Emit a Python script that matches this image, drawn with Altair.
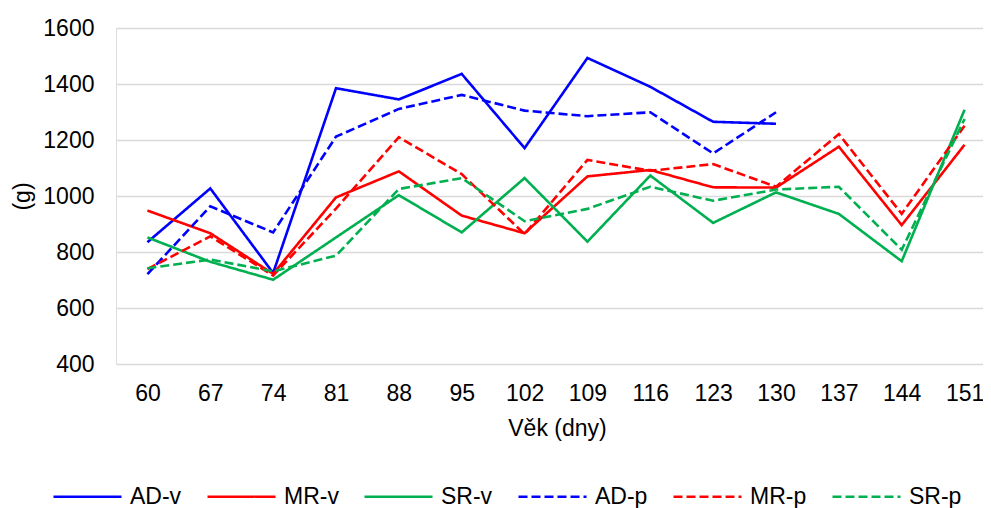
import altair as alt
import pandas as pd

days = [60, 67, 74, 81, 88, 95, 102, 109, 116, 123, 130, 137, 144, 151]

ad_v = [835, 1027, 725, 1385, 1345, 1436, 1171, 1493, 1390, 1265, 1258, None, None, None]
mr_v = [948, 867, 722, 995, 1088, 930, 867, 1070, 1093, 1031, 1030, 1176, 896, 1183]
sr_v = [852, 765, 701, 852, 1003, 870, 1064, 837, 1073, 904, 1013, 936, 767, 1308]
ad_p = [721, 963, 870, 1212, 1311, 1361, 1305, 1285, 1299, 1152, 1299, None, None, None]
mr_p = [739, 856, 716, 955, 1210, 1078, 864, 1129, 1090, 1114, 1033, 1221, 936, 1251]
sr_p = [742, 773, 731, 787, 1025, 1064, 910, 954, 1033, 983, 1023, 1033, 808, 1275]

series_names = ["AD-v", "MR-v", "SR-v", "AD-p", "MR-p", "SR-p"]
series_values = [ad_v, mr_v, sr_v, ad_p, mr_p, sr_p]
series_colors = ["#0000FF", "#FF0000", "#00B050", "#0000FF", "#FF0000", "#00B050"]
series_dash = [[1, 0], [1, 0], [1, 0], [9, 4], [9, 4], [9, 4]]

y_ticks = [400, 600, 800, 1000, 1200, 1400, 1600]

rows = []
for name, vals in zip(series_names, series_values):
    for d, v in zip(days, vals):
        if v is not None:
            rows.append({"day": d, "value": v, "series": name})
df = pd.DataFrame(rows)

FONT = "Liberation Sans"
FS = 23
PLOT_W = 867
PLOT_H = 336
PX_PER_DAY = 880 / 98.0
x_lo = days[0] - 3.5
x_hi = x_lo + PLOT_W / PX_PER_DAY

legend = alt.Legend(
    title=None,
    orient="none",
    direction="horizontal",
    columns=6,
    legendX=-64,
    legendY=433,
    symbolType="stroke",
    symbolSize=4624,
    symbolStrokeWidth=2.5,
    labelFontSize=FS,
    labelFont=FONT,
    labelColor="#000000",
    labelOffset=7,
    columnPadding=20,
)

chart = (
    alt.Chart(df)
    .mark_line(strokeWidth=2.6)
    .encode(
        x=alt.X(
            "day:Q",
            scale=alt.Scale(domain=[x_lo, x_hi], nice=False, zero=False),
            axis=alt.Axis(
                values=days,
                format="d",
                title="Věk (dny)",
                grid=False,
                domain=False,
                ticks=False,
                labelPadding=18,
                labelFontSize=FS,
                labelFont=FONT,
                labelColor="#000000",
                labelFlush=False,
                labelOverlap=False,
                titleFontSize=FS,
                titleFont=FONT,
                titleFontWeight="normal",
                titleColor="#000000",
                titleX=441,
                titleY=53,
                titleAlign="center",
                titleBaseline="top",
            ),
        ),
        y=alt.Y(
            "value:Q",
            scale=alt.Scale(domain=[400, 1600], nice=False, zero=False),
            axis=alt.Axis(
                values=y_ticks,
                format="d",
                title="(g)",
                grid=True,
                gridColor="#D9D9D9",
                gridWidth=1.3,
                domain=False,
                ticks=False,
                labelPadding=22,
                labelFontSize=FS,
                labelFont=FONT,
                labelColor="#000000",
                titleFontSize=FS,
                titleFont=FONT,
                titleFontWeight="normal",
                titleColor="#000000",
                titleX=-94,
                titleY=168,
                titleAngle=270,
                titleAlign="center",
                titleBaseline="middle",
            ),
        ),
        color=alt.Color(
            "series:N",
            scale=alt.Scale(domain=series_names, range=series_colors),
            sort=series_names,
            legend=legend,
        ),
        strokeDash=alt.StrokeDash(
            "series:N",
            scale=alt.Scale(domain=series_names, range=series_dash),
            sort=series_names,
            legend=legend,
        ),
        order=alt.Order("day:Q"),
    )
    .properties(
        width=PLOT_W,
        height=PLOT_H,
        autosize=alt.AutoSizeParams(type="none"),
        padding={"left": 108, "top": 20, "right": 0, "bottom": 144},
    )
    .configure_view(stroke=None)
    .configure(background="#FFFFFF")
)

chart.save("out.html", embed_options={"renderer": "svg", "actions": False})
